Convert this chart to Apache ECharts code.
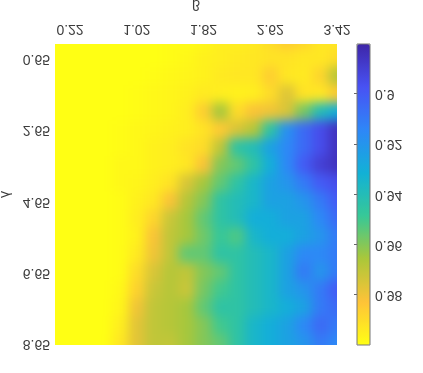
<!DOCTYPE html>
<html><head><meta charset="utf-8">
<script src="https://cdn.jsdelivr.net/npm/echarts@6/dist/echarts.min.js"></script>
<style>
html,body{margin:0;padding:0;background:#fff;width:423px;height:373px;overflow:hidden}
#flip{position:absolute;left:0;top:0;width:423px;height:373px;transform:scaleY(-1)}
#clip{position:absolute;left:55px;top:28px;width:282px;height:301px;overflow:hidden}
#heat{position:absolute;left:-55px;top:-28px;width:423px;height:373px;filter:blur(5.5px)}
#axes{position:absolute;left:0;top:0;width:423px;height:373px;filter:blur(0.45px)}
</style></head><body>
<div id="flip"><div id="clip"><div id="heat"></div></div><div id="axes"></div></div>
<script>
const xValues=[0.02,0.22,0.42,0.62,0.82,1.02,1.22,1.42,1.62,1.82,2.02,2.22,2.42,2.62,2.82,3.02,3.22,3.42];
const yValues=[0.15,0.65,1.15,1.65,2.15,2.65,3.15,3.65,4.15,4.65,5.15,5.65,6.15,6.65,7.15,7.65,8.15,8.65];
const xTicks=[0.22,1.02,1.82,2.62,3.42];
const yTicks=[0.65,2.65,4.65,6.65,8.65];
const barTicks=[0.9,0.92,0.94,0.96,0.98];
const row00=[1,1,1,1,1,1,1,.999,.999,.998,.995,.995,.994,.99,.985,.988,.993,.993];
const row01=[1,1,1,1,1,1,1,.999,.998,.996,.995,.994,.993,.992,.992,.993,.993,.99];
const row02=[1,1,1,1,1,1,.999,.998,.997,.996,.994,.993,.993,.986,.993,.994,.988,.968];
const row03=[1,1,1,1,1,.999,.998,.997,.996,.994,.995,.996,.995,.99,.976,.992,.993,.985];
const row04=[1,1,1,1,1,.999,.998,.997,.995,.986,.965,.99,.982,.98,.975,.958,.94,.93];
const row05=[1,1,1,1,.999,.998,.997,.996,.995,.992,.985,.975,.968,.945,.918,.905,.895,.885];
const row06=[1,1,1,1,.999,.998,.996,.995,.992,.99,.97,.945,.94,.925,.915,.905,.895,.885];
const row07=[1,1,1,1,.998,.998,.996,.995,.993,.982,.96,.955,.945,.93,.915,.90,.89,.885];
const row08=[1,1,1,1,.998,.997,.995,.992,.975,.965,.955,.945,.935,.925,.92,.91,.90,.895];
const row09=[1,1,1,1,.999,.996,.993,.982,.968,.96,.945,.94,.935,.925,.925,.92,.91,.90];
const row10=[1,1,1,1,.999,.995,.988,.972,.965,.955,.945,.94,.93,.93,.925,.925,.915,.905];
const row11=[1,1,1,1,.999,.996,.982,.97,.965,.957,.948,.952,.935,.93,.93,.925,.92,.91];
const row12=[1,1,1,1,.999,.994,.98,.97,.955,.955,.945,.945,.94,.935,.925,.915,.915,.91];
const row13=[1,1,1,1,.999,.99,.975,.968,.97,.96,.955,.945,.94,.935,.925,.91,.92,.91];
const row14=[1,1,1,1,.998,.987,.972,.968,.972,.958,.95,.945,.94,.935,.925,.92,.91,.90];
const row15=[1,1,1,1,.997,.98,.97,.968,.965,.955,.945,.945,.94,.935,.93,.925,.91,.905];
const row16=[1,1,1,1,.995,.977,.97,.968,.965,.96,.95,.945,.935,.93,.925,.915,.905,.91];
const row17=[1,1,1,1,.993,.977,.97,.97,.965,.96,.955,.945,.935,.93,.925,.92,.91,.915];
const rows=[row00,row01,row02,row03,row04,row05,row06,row07,row08,row09,row10,row11,row12,row13,row14,row15,row16,row17];
const parula=['#3E26A8','#4852F4','#2E87F7','#12B1D6','#37C897','#ABC739','#FEC338','#FFFF14'];

const cells=[];
rows.forEach((r,j)=>r.forEach((v,i)=>cells.push([xValues[i],yValues[j],v])));
const grid={left:55,top:28,width:282,height:301,outerBoundsMode:'none'};
const xRange={min:0.04,max:3.42}, yRange={min:0.23,max:8.68};
const txt='#3c3c3c', font='"Liberation Sans", Arial, sans-serif';

const heat=echarts.init(document.getElementById('heat'),null,{renderer:'canvas'});
heat.setOption({
  animation:false,
  grid,
  xAxis:{type:'value',show:false,...xRange},
  yAxis:{type:'value',show:false,...yRange},
  visualMap:{show:false,type:'continuous',min:0.88,max:1,dimension:2,seriesIndex:0,inRange:{color:parula}},
  series:[{type:'custom',clip:false,encode:{x:0,y:1},data:cells,silent:true,
    renderItem(params,api){
      const xv=api.value(0),yv=api.value(1);
      const c=api.coord([xv,yv]),s=api.size([0.2,0.5]);
      let x0=c[0]-s[0]/2,x1=c[0]+s[0]/2+1,y0=c[1]-s[1]/2,y1=c[1]+s[1]/2+1;
      if(xv===xValues[0])x0-=30;
      if(xv===xValues[xValues.length-1])x1+=30;
      if(yv===yValues[0])y1+=30;
      if(yv===yValues[yValues.length-1])y0-=30;
      return {type:'rect',shape:{x:x0,y:y0,width:x1-x0,height:y1-y0},style:{fill:api.visual('color')}};
    }}]
});

const axes=echarts.init(document.getElementById('axes'),null,{renderer:'canvas'});
axes.setOption({
  animation:false,
  textStyle:{fontFamily:font},
  grid:[grid,{left:357,top:28,width:13,height:301,outerBoundsMode:'none'}],
  xAxis:[
    {gridIndex:0,type:'value',...xRange,name:'\u03b2',nameLocation:'middle',nameGap:33,
     nameTextStyle:{color:txt,fontSize:14,fontFamily:font},
     axisLine:{show:false},splitLine:{show:false},axisTick:{show:false},
     axisLabel:{customValues:xTicks,color:txt,fontSize:14,margin:8,fontFamily:font,formatter:v=>v.toFixed(2),hideOverlap:false}},
    {gridIndex:1,type:'value',min:0,max:1,show:false}
  ],
  yAxis:[
    {gridIndex:0,type:'value',...yRange,name:'\u03b3',nameLocation:'middle',nameGap:40,nameRotate:90,
     nameTextStyle:{color:txt,fontSize:14,fontFamily:font},
     axisLine:{show:false},splitLine:{show:false},axisTick:{show:false},
     axisLabel:{customValues:yTicks,color:txt,fontSize:14,margin:5,fontFamily:font,formatter:v=>v.toFixed(2),hideOverlap:false}},
    {gridIndex:1,type:'value',min:0.88,max:1,position:'right',
     axisLine:{show:false},splitLine:{show:false},
     axisTick:{show:true,inside:true,length:3,lineStyle:{color:'#666'},customValues:barTicks},
     axisLabel:{customValues:barTicks,color:txt,fontSize:14,margin:5,fontFamily:font,formatter:v=>String(v),hideOverlap:false}}
  ],
  visualMap:{show:true,type:'continuous',min:0.88,max:1,calculable:false,seriesIndex:[],left:357,top:28,itemWidth:13,itemHeight:301,
    text:null,showLabel:false,padding:0,realtime:false,inRange:{color:parula},borderWidth:0},
  graphic:[{type:'rect',z:100,silent:true,shape:{x:357,y:28,width:13,height:301},style:{fill:'none',stroke:'#777',lineWidth:1}}]
});
</script>
</body></html>
